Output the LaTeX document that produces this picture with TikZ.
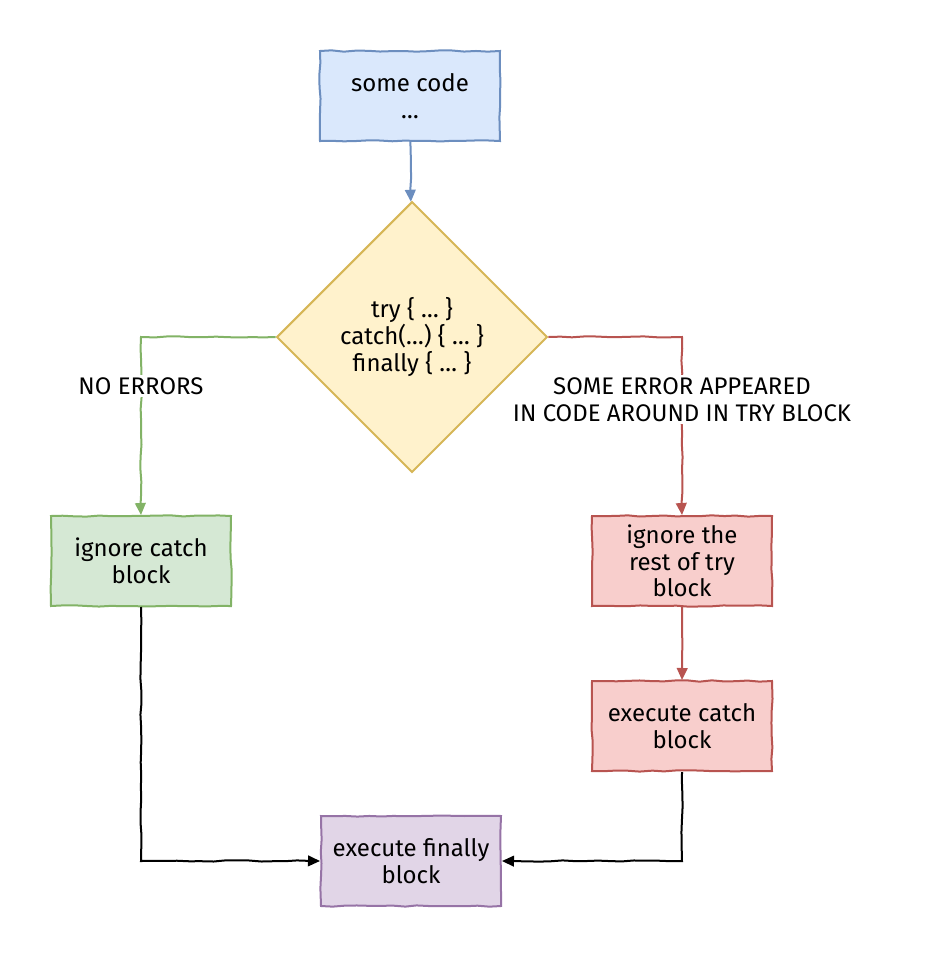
\documentclass[tikz,border=0pt]{standalone}
\usepackage{fontspec}
\setmainfont{Fira Sans}
\usetikzlibrary{shapes.geometric,arrows.meta,decorations.pathmorphing}

\definecolor{bluefill}{HTML}{DAE8FC}
\definecolor{blueline}{HTML}{6C8EBF}
\definecolor{yellowfill}{HTML}{FFF2CC}
\definecolor{yellowline}{HTML}{D6B656}
\definecolor{greenfill}{HTML}{D5E8D4}
\definecolor{greenline}{HTML}{82B366}
\definecolor{redfill}{HTML}{F8CECC}
\definecolor{redline}{HTML}{B85450}
\definecolor{purplefill}{HTML}{E1D5E7}
\definecolor{purpleline}{HTML}{9673A6}

\begin{document}
\pgfmathsetseed{7}
\begin{tikzpicture}[x=0.75pt,y=-0.75pt,
    sketch/.style={decorate,decoration={random steps,segment length=9pt,amplitude=0.5pt}},
    block/.style={draw,sketch,line width=1.5pt,minimum width=135pt,minimum height=67.5pt,
      align=center,font=\fontsize{18}{20}\selectfont,inner sep=2pt},
    test/.style={draw,line width=1.5pt,diamond,aspect=1,minimum width=203pt,minimum height=203pt,
      inner sep=0pt,align=center,font=\fontsize{18}{20}\selectfont,
      fill=yellowfill,draw=yellowline},
    flow/.style={sketch,line width=1.5pt,-{Triangle[length=9pt,width=8pt]}},
    tag/.style={fill=white,text=black,align=center,inner sep=2pt,font=\fontsize{18}{20}\selectfont}]
    \useasboundingbox (0,0) rectangle (939,958);
    % blocks
    \node [block,fill=bluefill,draw=blueline] (code) at (410,96) {some code\\\dots};
    \node [test] (try) at (412,337) {try \{ \dots\ \}\\catch(\dots) \{ \dots\ \}\\finally \{ \dots\ \}};
    \node [block,fill=greenfill,draw=greenline] (skip) at (141,561) {ignore catch\\block};
    \node [block,fill=redfill,draw=redline] (rest) at (682,561) {ignore the\\rest of try\\block};
    \node [block,fill=redfill,draw=redline] (catch) at (682,726) {execute catch\\block};
    \node [block,fill=purplefill,draw=purpleline] (final) at (411,861) {execute finally\\block};
    % connectors
    \draw [flow,blueline] (code) -- (try);
    \draw [flow,greenline] (try.west) -| (skip.north)
      node [tag,pos=0.637] {NO ERRORS};
    \draw [flow,redline] (try.east) -| (rest.north)
      node [tag,pos=0.676] {SOME ERROR APPEARED\\IN CODE AROUND IN TRY BLOCK};
    \draw [flow,redline] (rest) -- (catch);
    \draw [flow,black] (skip.south) |- (final.west);
    \draw [flow,black] (catch.south) |- (final.east);
\end{tikzpicture}
\end{document}
